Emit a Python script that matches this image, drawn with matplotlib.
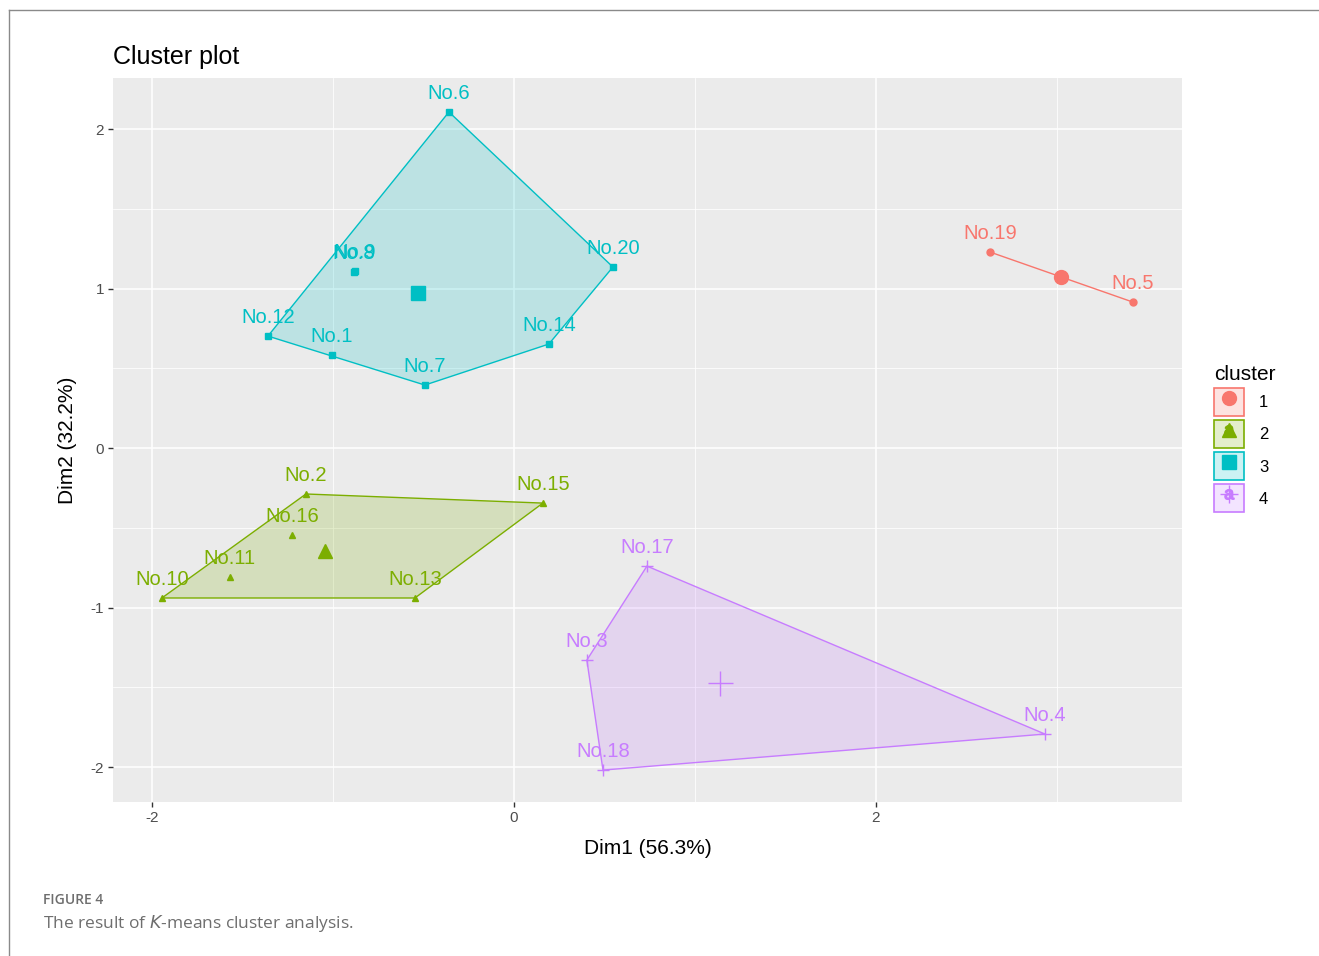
import numpy as np
import matplotlib
matplotlib.use("Agg")
import matplotlib.pyplot as plt
from matplotlib.patches import Patch
from matplotlib.lines import Line2D
from matplotlib.legend_handler import HandlerTuple
from matplotlib.colors import to_rgba

plt.rcParams['font.family'] = ['Liberation Sans', 'DejaVu Sans']
plt.rcParams['axes.unicode_minus'] = False

# sample coordinates on the first two principal dimensions, grouped by cluster
names_1 = ["No.19", "No.5"]
dim1_1 = [2.630, 3.420]
dim2_1 = [1.229, 0.915]

names_2 = ["No.2", "No.15", "No.13", "No.10", "No.11", "No.16"]
dim1_2 = [-1.149, 0.160, -0.547, -1.945, -1.569, -1.227]
dim2_2 = [-0.288, -0.345, -0.940, -0.940, -0.809, -0.545]

names_3 = ["No.6", "No.20", "No.14", "No.7", "No.1", "No.12", "No.8", "No.9"]
dim1_3 = [-0.359, 0.547, 0.193, -0.492, -1.006, -1.359, -0.884, -0.878]
dim2_3 = [2.107, 1.135, 0.652, 0.395, 0.583, 0.702, 1.103, 1.109]

names_4 = ["No.17", "No.3", "No.18", "No.4"]
dim1_4 = [0.735, 0.403, 0.492, 2.934]
dim2_4 = [-0.740, -1.329, -2.019, -1.793]

cluster_ids = ["1", "2", "3", "4"]
colors = ["#F8766D", "#7CAE00", "#00BFC4", "#C77CFF"]
markers = ["o", "^", "s", "+"]


def convex_hull(pts):
    # monotone chain, returns hull points in order
    pts = sorted(set(pts))
    if len(pts) <= 2:
        return pts

    def cross(o, a, b):
        return (a[0] - o[0]) * (b[1] - o[1]) - (a[1] - o[1]) * (b[0] - o[0])

    lower = []
    for p in pts:
        while len(lower) >= 2 and cross(lower[-2], lower[-1], p) <= 0:
            lower.pop()
        lower.append(p)
    upper = []
    for p in reversed(pts):
        while len(upper) >= 2 and cross(upper[-2], upper[-1], p) <= 0:
            upper.pop()
        upper.append(p)
    return lower[:-1] + upper[:-1]


fig = plt.figure(figsize=(13.19, 9.56), dpi=100)
ax = fig.add_axes([113 / 1319, 1 - 802 / 956, (1182 - 113) / 1319, (802 - 78) / 956])
ax.set_facecolor("#EBEBEB")

groups = [(names_1, dim1_1, dim2_1), (names_2, dim1_2, dim2_2),
          (names_3, dim1_3, dim2_3), (names_4, dim1_4, dim2_4)]

for (names, xs, ys), col, mk in zip(groups, colors, markers):
    hull = convex_hull(list(zip(xs, ys)))
    hx = [p[0] for p in hull]
    hy = [p[1] for p in hull]
    if len(hull) > 2:
        ax.fill(hx, hy, facecolor=to_rgba(col, 0.2), edgecolor=col, lw=1.0, zorder=2)
    else:
        ax.plot(hx, hy, color=col, lw=1.0, zorder=2)
    ms = 9 if mk == "+" else 5
    ax.plot(xs, ys, ls="", marker=mk, color=col, ms=ms, mew=1.0, zorder=3)
    # cluster centre
    cx, cy = np.mean(xs), np.mean(ys)
    ax.plot(cx, cy, ls="", marker=mk, color=col, ms=18 if mk == "+" else 10, mew=1.0, zorder=3)
    for n, x, y in zip(names, xs, ys):
        ax.annotate(n, (x, y), xytext=(0, 13.5), textcoords="offset points",
                    ha="center", va="center", color=col, fontsize=14.5, zorder=4)

ax.set_xlim(-2.215, 3.691)
ax.set_ylim(-2.219, 2.320)
ax.set_xticks([-2, 0, 2])
ax.set_yticks([-2, -1, 0, 1, 2])
ax.set_xticks([-1, 1, 3], minor=True)
ax.set_yticks([-1.5, -0.5, 0.5, 1.5], minor=True)
ax.grid(which="major", color="white", lw=1.1, zorder=0)
ax.grid(which="minor", color="white", lw=0.55, zorder=0)
ax.set_axisbelow(True)
for s in ax.spines.values():
    s.set_visible(False)
ax.tick_params(which="major", length=3.5, width=1.0, color="#333333",
               labelcolor="#4D4D4D", labelsize=11, pad=3)
ax.tick_params(which="minor", length=0)

ax.set_xlabel("Dim1 (56.3%)", fontsize=15, labelpad=10)
ax.set_ylabel("Dim2 (32.2%)", fontsize=15, labelpad=10)
ax.set_title("Cluster plot", loc="left", fontsize=18, pad=10, x=0.0)

handles = []
for col, mk in zip(colors, markers):
    box = Patch(facecolor=to_rgba(col, 0.2), edgecolor=col, lw=1.2)
    pt = Line2D([], [], ls="", marker=mk, color=col, ms=10 if mk != "+" else 13, mew=1.0)
    txt = Line2D([], [], ls="", marker="$\\mathregular{a}$", color=col, ms=7)
    handles.append((box, pt, txt))
leg = fig.legend(handles, cluster_ids, title="cluster", loc="upper left",
                 bbox_to_anchor=(1199 / 1319, 1 - 350 / 956), frameon=False,
                 fontsize=12, title_fontsize=15, handlelength=1.8, handleheight=2.2,
                 labelspacing=0.25, handletextpad=0.9,
                 handler_map={tuple: HandlerTuple(ndivide=1, pad=0)})
leg._legend_box.align = "left"

# figure frame and caption
fig.add_artist(Line2D([9 / 1319, 9 / 1319], [0, 1 - 10 / 956], color="#8A8A8A", lw=1.0))
fig.add_artist(Line2D([9 / 1319, 1], [1 - 10 / 956, 1 - 10 / 956], color="#8A8A8A", lw=1.0))
fig.text(43 / 1319, 1 - 900 / 956, "FIGURE 4", family="Open Sans", fontsize=10,
         color="#6E6E6E", va="center", weight="semibold")
fig.text(43 / 1319, 1 - 923 / 956, "The result of $\\mathit{K}$-means cluster analysis.",
         family="Open Sans", fontsize=12.5, color="#6E6E6E", va="center")

fig.savefig("out.png", dpi=100)
